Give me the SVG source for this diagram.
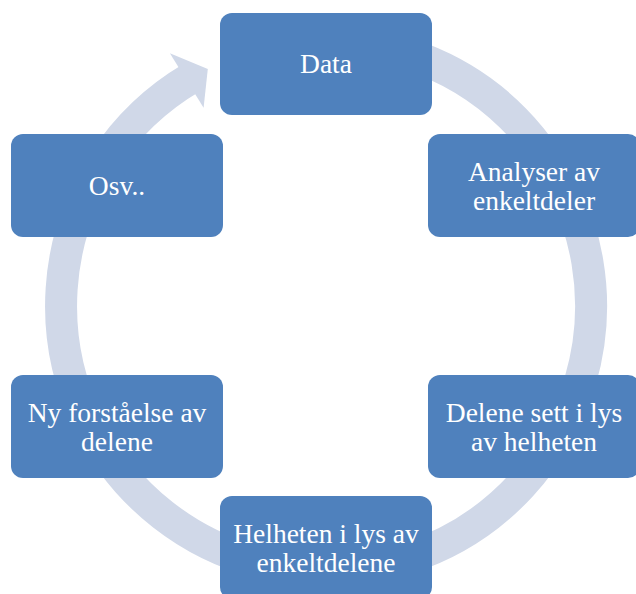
<svg xmlns="http://www.w3.org/2000/svg" width="636" height="594" viewBox="0 0 636 594">
<style>
.box{fill:#4F81BD}
.ring{fill:none;stroke:#D0D8E8;stroke-width:32}
.arrowhead{fill:#D0D8E8}
.lbl{font-family:"Liberation Serif","Times New Roman",serif;font-size:27.5px;fill:#FFFFFF;text-anchor:middle}
</style>
<rect width="636" height="594" fill="#FFFFFF"/>
<g id="connectors">
<path class="ring" d="M 302.9 42.0 A 265 265 0 1 1 191.5 77.7"/>
<polygon class="arrowhead" points="169.9,53.3 207.8,68.9 203.6,107.8"/>
</g>
<g id="node-data">
<rect class="box" x="220" y="13" width="212" height="102" rx="12"/>
<text class="lbl" x="326" y="73">Data</text>
</g>
<g id="node-analyser">
<rect class="box" x="428" y="134" width="212" height="103" rx="12"/>
<text class="lbl" x="534" y="180.5">Analyser av</text>
<text class="lbl" x="534" y="209.5">enkeltdeler</text>
</g>
<g id="node-delene">
<rect class="box" x="428" y="375" width="212" height="103" rx="12"/>
<text class="lbl" x="534" y="421.5">Delene sett i lys</text>
<text class="lbl" x="534" y="450.5">av helheten</text>
</g>
<g id="node-helheten">
<rect class="box" x="220" y="496" width="212" height="103" rx="12"/>
<text class="lbl" x="326" y="542.5">Helheten i lys av</text>
<text class="lbl" x="326" y="571.5">enkeltdelene</text>
</g>
<g id="node-ny">
<rect class="box" x="11" y="375" width="212" height="103" rx="12"/>
<text class="lbl" x="117" y="421.5">Ny forståelse av</text>
<text class="lbl" x="117" y="450.5">delene</text>
</g>
<g id="node-osv">
<rect class="box" x="11" y="134" width="212" height="103" rx="12"/>
<text class="lbl" x="117" y="194.5">Osv..</text>
</g>
</svg>
